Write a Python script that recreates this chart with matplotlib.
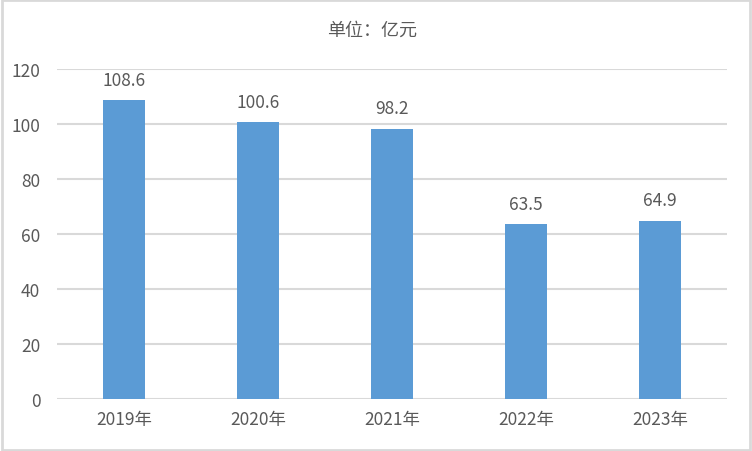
import matplotlib
matplotlib.use('Agg')
import matplotlib.pyplot as plt

plt.rcParams['font.family'] = ['Noto Sans CJK SC', 'DejaVu Sans']

years = ["2019年", "2020年", "2021年", "2022年", "2023年"]
values = [108.6, 100.6, 98.2, 63.5, 64.9]
yticks = [0, 20, 40, 60, 80, 100, 120]

txt = "#595959"
grid = "#D9D9D9"

fig = plt.figure(figsize=(7.52, 4.52), dpi=100)
ax = fig.add_axes([0.0758, 0.115, 0.891, 0.730])

x = range(len(years))
ax.bar(x, values, width=0.31, color="#5B9BD5", zorder=3)
for i, v in zip(x, values):
    ax.text(i, v + 4.3, "{:.1f}".format(v), ha="center", va="bottom", fontsize=12.5, color=txt)

ax.set_xlim(-0.5, len(years) - 0.5)
ax.set_ylim(0, 120)
ax.set_yticks(yticks)
ax.set_xticks(list(x))
ax.set_xticklabels(years)
ax.yaxis.grid(True, color=grid, linewidth=1.5, zorder=0)
for s in ax.spines.values():
    s.set_visible(False)
ax.tick_params(length=0, labelsize=12.5, labelcolor=txt)
ax.tick_params(axis="x", pad=8)
ax.tick_params(axis="y", pad=12)

fig.text(0.495, 0.933, "单位：亿元", ha="center", va="center", fontsize=13, color=txt)

# figure border
fig.patches.append(plt.Rectangle((0.002, 0.003), 0.996, 0.994, transform=fig.transFigure,
                                 fill=False, edgecolor=grid, linewidth=2))

fig.savefig("out.png", dpi=100)
